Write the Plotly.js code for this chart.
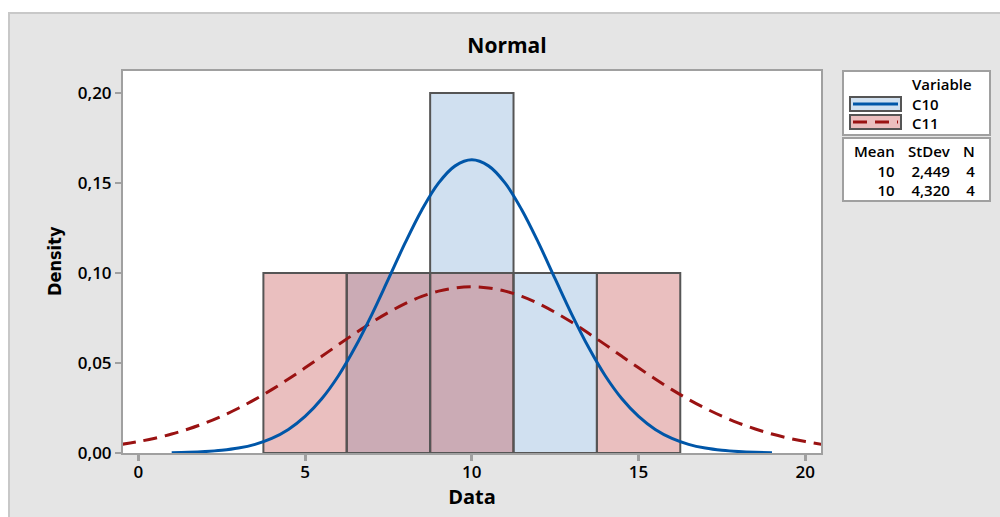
<!DOCTYPE html>
<html>
<head>
<meta charset="utf-8">
<script src="https://cdn.plot.ly/plotly-3.0.1.min.js"></script>
<style>
  html, body { margin: 0; padding: 0; background: #ffffff; width: 1000px; height: 517px; overflow: hidden; }
  #bg { position: absolute; left: 8px; top: 12px; width: 1000px; height: 520px; background: #e5e5e5; border-left: 2px solid #c8c8c8; border-top: 2px solid #c8c8c8; }
  #chart { position: absolute; left: 0; top: 0; width: 1000px; height: 517px; }
</style>
</head>
<body>
<div id="bg"></div>
<div id="chart"></div>
<script>
// ---- Data ----
const c10BinCenters = [7.5, 10, 12.5];
const c10Density    = [0.10, 0.20, 0.10];
const c11BinCenters = [5, 7.5, 10, 15];
const c11Density    = [0.10, 0.10, 0.10, 0.10];
const binWidth = 2.5;

const c10FitX = [1,1.5,2,2.5,3,3.5,4,4.5,5,5.5,6,6.5,7,7.5,8,8.5,9,9.5,10,10.5,11,11.5,12,12.5,13,13.5,14,14.5,15,15.5,16,16.5,17,17.5,18,18.5,19];
const c10FitY = [0.00019,0.00039,0.00079,0.0015,0.00274,0.00481,0.0081,0.01308,0.0203,0.0301,0.0429,0.0587,0.0769,0.0967,0.1167,0.1350,0.1499,0.1595,0.1629,0.1595,0.1499,0.1350,0.1167,0.0967,0.0769,0.0587,0.0429,0.0301,0.0203,0.01308,0.0081,0.00481,0.00274,0.0015,0.00079,0.00039,0.00019];

const c11FitX = [-0.5,0,0.5,1,1.5,2,2.5,3,3.5,4,4.5,5,5.5,6,6.5,7,7.5,8,8.5,9,9.5,10,10.5,11,11.5,12,12.5,13,13.5,14,14.5,15,15.5,16,16.5,17,17.5,18,18.5,19,19.5,20,20.5];
const c11FitY = [0.00482,0.00634,0.00823,0.01054,0.01333,0.01662,0.02046,0.02485,0.02977,0.0352,0.0411,0.0473,0.0537,0.0602,0.0665,0.0726,0.0781,0.0830,0.0870,0.0899,0.0917,0.09235,0.0917,0.0899,0.0870,0.0830,0.0781,0.0726,0.0665,0.0602,0.0537,0.0473,0.0411,0.0352,0.02977,0.02485,0.02046,0.01662,0.01333,0.01054,0.00823,0.00634,0.00482];

const xTickVals = [0, 5, 10, 15, 20];
const xTickText = ['0', '5', '10', '15', '20'];
const yTickVals = [0, 0.05, 0.10, 0.15, 0.20];
const yTickText = ['0,00', '0,05', '0,10', '0,15', '0,20'];

const legendTitle = 'Variable';
const variables = ['C10', 'C11'];
const statHeaders = ['Mean', 'StDev', 'N'];
const means = ['10', '10'];
const stdevs = ['2,449', '4,320'];
const ns = ['4', '4'];

// ---- Styles ----
const FONT = 'Open Sans, Noto Sans, sans-serif';
const blueFill = '#d0e0f0';
const redFill = 'rgba(196,74,74,0.354)';
const blueLine = '#0056a8';
const redLine = '#9a1212';
const barEdge = '#555555';
const txt = (size) => ({ family: FONT, size: size, color: '#000', weight: 600 });

// plot area in pixels
const PL = 123, PR = 821, PT = 71, PB = 453;
const px = v => (v - PL) / (PR - PL);
const py = v => (PB - v) / (PB - PT);

const traces = [
  { type: 'bar', x: c10BinCenters, y: c10Density, width: c10BinCenters.map(() => binWidth),
    marker: { color: blueFill, line: { color: barEdge, width: 2 } }, showlegend: false, hoverinfo: 'x+y' },
  { type: 'bar', x: c11BinCenters, y: c11Density, width: c11BinCenters.map(() => binWidth),
    marker: { color: redFill, line: { color: barEdge, width: 2 } }, showlegend: false, hoverinfo: 'x+y' },
  { type: 'scatter', mode: 'lines', x: c11FitX, y: c11FitY, line: { color: redLine, width: 3, dash: '14px,8px', shape: 'spline' }, showlegend: false },
  { type: 'scatter', mode: 'lines', x: c10FitX, y: c10FitY, line: { color: blueLine, width: 3, shape: 'spline' }, showlegend: false }
];

const shapes = [];
const annotations = [];

// legend box 1
shapes.push({ type: 'rect', xref: 'paper', yref: 'paper', x0: px(843), x1: px(990), y0: py(71), y1: py(135),
  fillcolor: '#ffffff', line: { color: '#a0a0a0', width: 2 }, layer: 'above' });
// legend box 2
shapes.push({ type: 'rect', xref: 'paper', yref: 'paper', x0: px(843), x1: px(990), y0: py(138), y1: py(201),
  fillcolor: '#ffffff', line: { color: '#a0a0a0', width: 2 }, layer: 'above' });

// legend text: one block (title + variables)
annotations.push({ xref: 'paper', yref: 'paper', x: px(910), y: py(103), text: [legendTitle].concat(variables).join('<br>'),
  showarrow: false, align: 'left', xanchor: 'left', yanchor: 'middle', font: txt(15) });

const swatchY = [[97, 111], [115, 129]];
const swatchFill = ['#d0e0f0', '#ebbfbf'];
const swatchLine = [{ color: blueLine, width: 3 }, { color: redLine, width: 3, dash: '14px,8px' }];
variables.forEach((v, i) => {
  const [a, b] = swatchY[i];
  shapes.push({ type: 'rect', xref: 'paper', yref: 'paper', x0: px(850), x1: px(901), y0: py(a), y1: py(b),
    fillcolor: swatchFill[i], line: { color: barEdge, width: 2 }, layer: 'above' });
  shapes.push({ type: 'line', xref: 'paper', yref: 'paper', x0: px(853), x1: px(898), y0: py((a + b) / 2), y1: py((a + b) / 2),
    line: swatchLine[i], layer: 'above' });
});

// stats table: one right-aligned block per column
const colRight = [897, 953, 977];
const cols = [means, stdevs, ns];
statHeaders.forEach((h, j) => annotations.push({ xref: 'paper', yref: 'paper', x: px(colRight[j]), y: py(170),
  text: [h].concat(cols[j]).join('<br>'), showarrow: false, align: 'right', xanchor: 'right', yanchor: 'middle', font: txt(15) }));

// y axis title (condensed look)
annotations.push({ xref: 'paper', yref: 'paper', x: px(54), y: py(261), text: '<b>Density</b>', textangle: -90, showarrow: false,
  xanchor: 'center', yanchor: 'middle', font: { family: 'DejaVu Sans Condensed, Liberation Sans Narrow, sans-serif', size: 18, color: '#000' } });

const layout = {
  width: 1000, height: 517,
  paper_bgcolor: 'rgba(0,0,0,0)', plot_bgcolor: '#ffffff',
  margin: { l: PL, r: 1000 - PR, t: PT, b: 517 - PB, pad: 0 },
  barmode: 'overlay', bargap: 0,
  showlegend: false,
  title: { text: '<b>Normal</b>', xref: 'container', yref: 'container', x: 0.507, y: 1 - 46 / 517,
    xanchor: 'center', yanchor: 'middle', font: { family: FONT, size: 21, color: '#000' } },
  xaxis: {
    range: [-0.46, 20.47], tickvals: xTickVals, ticktext: xTickText,
    showline: true, mirror: true, linecolor: '#a0a0a0', linewidth: 2,
    ticks: 'outside', ticklen: 6, tickwidth: 3, tickcolor: '#a0a0a0',
    ticklabelstandoff: -3,
    showgrid: false, zeroline: false,
    tickfont: txt(17),
    title: { text: '<b>Data</b>', standoff: 4, font: { family: FONT, size: 20, color: '#000' } }
  },
  yaxis: {
    range: [0, 0.2122], tickvals: yTickVals, ticktext: yTickText,
    showline: true, mirror: true, linecolor: '#a0a0a0', linewidth: 2,
    ticks: 'outside', ticklen: 6, tickwidth: 2, tickcolor: '#a0a0a0',
    showgrid: false, zeroline: false,
    tickfont: txt(17)
  },
  shapes: shapes,
  annotations: annotations
};

Plotly.newPlot('chart', traces, layout, { displayModeBar: false, staticPlot: true });
</script>
</body>
</html>
